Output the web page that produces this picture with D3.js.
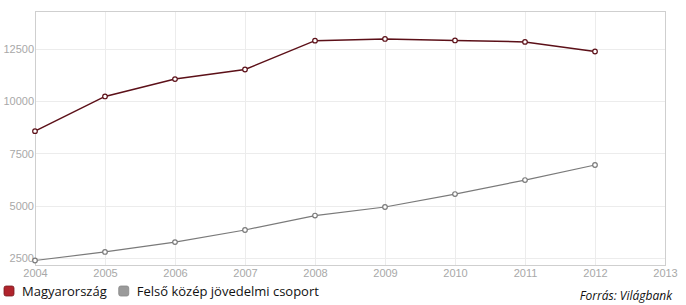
<!DOCTYPE html>
<html>
<head>
<meta charset="utf-8">
<script src="https://cdn.jsdelivr.net/npm/d3@7"></script>
<style>
  body { margin: 0; background: #fff; }
  svg { display: block; }
  .tick text { fill: #a8a8a8; font-family: "Liberation Sans", Arial, sans-serif; font-size: 11px; }
</style>
</head>
<body>
<div id="chart"></div>
<script>
// data
let years = [2004, 2005, 2006, 2007, 2008, 2009, 2010, 2011, 2012];
let xTicks = [2004, 2005, 2006, 2007, 2008, 2009, 2010, 2011, 2012, 2013];
let yTicks = [2500, 5000, 7500, 10000, 12500];
let hungary = [8570, 10230, 11060, 11520, 12900, 12980, 12910, 12840, 12380];
let upperMiddle = [2380, 2790, 3260, 3840, 4530, 4940, 5560, 6230, 6950];
let seriesNames = ['Magyarország', 'Felső közép jövedelmi csoport'];
let seriesColors = ['#5c1018', '#7a7a7a'];
let legendColors = ['#b0242c', '#9a9a9a'];

let width = 686;
let height = 305;
let margin = { top: 11, right: 21, bottom: 40, left: 35 };

let svg = d3.select('#chart')
    .append('svg')
    .attr('width', width)
    .attr('height', height);

let x = d3.scaleLinear()
    .domain([2004, 2013])
    .range([margin.left, width - margin.right]);
let y = d3.scaleLinear()
    .domain([2165, 14318])
    .range([height - margin.bottom, margin.top]);

// grid
let grid = svg.append('g');
grid.selectAll('line.h')
    .data(yTicks)
    .enter()
    .append('line')
    .attr('x1', margin.left).attr('x2', width - margin.right)
    .attr('y1', d => Math.round(y(d)) + 0.5).attr('y2', d => Math.round(y(d)) + 0.5)
    .attr('stroke', '#ececec');
grid.selectAll('line.v')
    .data(xTicks.slice(1, -1))
    .enter()
    .append('line')
    .attr('x1', d => Math.round(x(d)) + 0.5).attr('x2', d => Math.round(x(d)) + 0.5)
    .attr('y1', margin.top).attr('y2', height - margin.bottom)
    .attr('stroke', '#ececec');

// frame
svg.append('rect')
    .attr('x', margin.left + 0.5)
    .attr('y', margin.top + 0.5)
    .attr('width', width - margin.left - margin.right)
    .attr('height', height - margin.top - margin.bottom)
    .attr('fill', 'none')
    .attr('stroke', '#cfcfcf');

// axes (labels only)
let yAxis = svg.append('g')
    .attr('transform', 'translate(' + (margin.left - 1) + ',0)')
    .call(d3.axisLeft(y).tickValues(yTicks).tickSize(0).tickPadding(0).tickFormat(d3.format('d')));
yAxis.select('.domain').remove();

let xAxis = svg.append('g')
    .attr('transform', 'translate(0,' + (height - margin.bottom) + ')')
    .call(d3.axisBottom(x).tickValues(xTicks).tickSize(0).tickPadding(4).tickFormat(d3.format('d')));
xAxis.select('.domain').remove();

// series
let line = d3.line()
    .x((d, i) => x(years[i]))
    .y(d => y(d));

[hungary, upperMiddle].forEach(function (values, s) {
    let g = svg.append('g');
    g.append('path')
        .attr('d', line(values))
        .attr('fill', 'none')
        .attr('stroke', seriesColors[s])
        .attr('stroke-width', s === 0 ? 1.5 : 1.2);
    g.selectAll('circle')
        .data(values)
        .enter()
        .append('circle')
        .attr('cx', (d, i) => x(years[i]))
        .attr('cy', d => y(d))
        .attr('r', 2.3)
        .attr('fill', '#fff')
        .attr('stroke', seriesColors[s])
        .attr('stroke-width', 1.2);
});

// legend - items laid out one after another
let legend = svg.append('g').attr('transform', 'translate(0,' + 286 + ')');
let lx = 4;
seriesNames.forEach(function (name, i) {
    legend.append('rect')
        .attr('x', lx).attr('y', 0)
        .attr('width', 10).attr('height', 10)
        .attr('rx', 2)
        .attr('fill', legendColors[i])
        .attr('stroke', i === 0 ? '#7a1a1f' : '#888')
        .attr('stroke-width', 0.8);
    let t = legend.append('text')
        .attr('x', lx + 18).attr('y', 10)
        .style('font-family', '"Open Sans", sans-serif')
        .style('font-size', '13px')
        .style('fill', '#111')
        .text(name);
    lx = lx + 18 + t.node().getComputedTextLength() + 12;
});

svg.append('text')
    .attr('x', 672).attr('y', 300)
    .attr('text-anchor', 'end')
    .style('font-family', '"Open Sans", sans-serif')
    .style('font-style', 'italic')
    .style('font-size', '12px')
    .style('fill', '#111')
    .text('Forrás: Világbank');
</script>
</body>
</html>
